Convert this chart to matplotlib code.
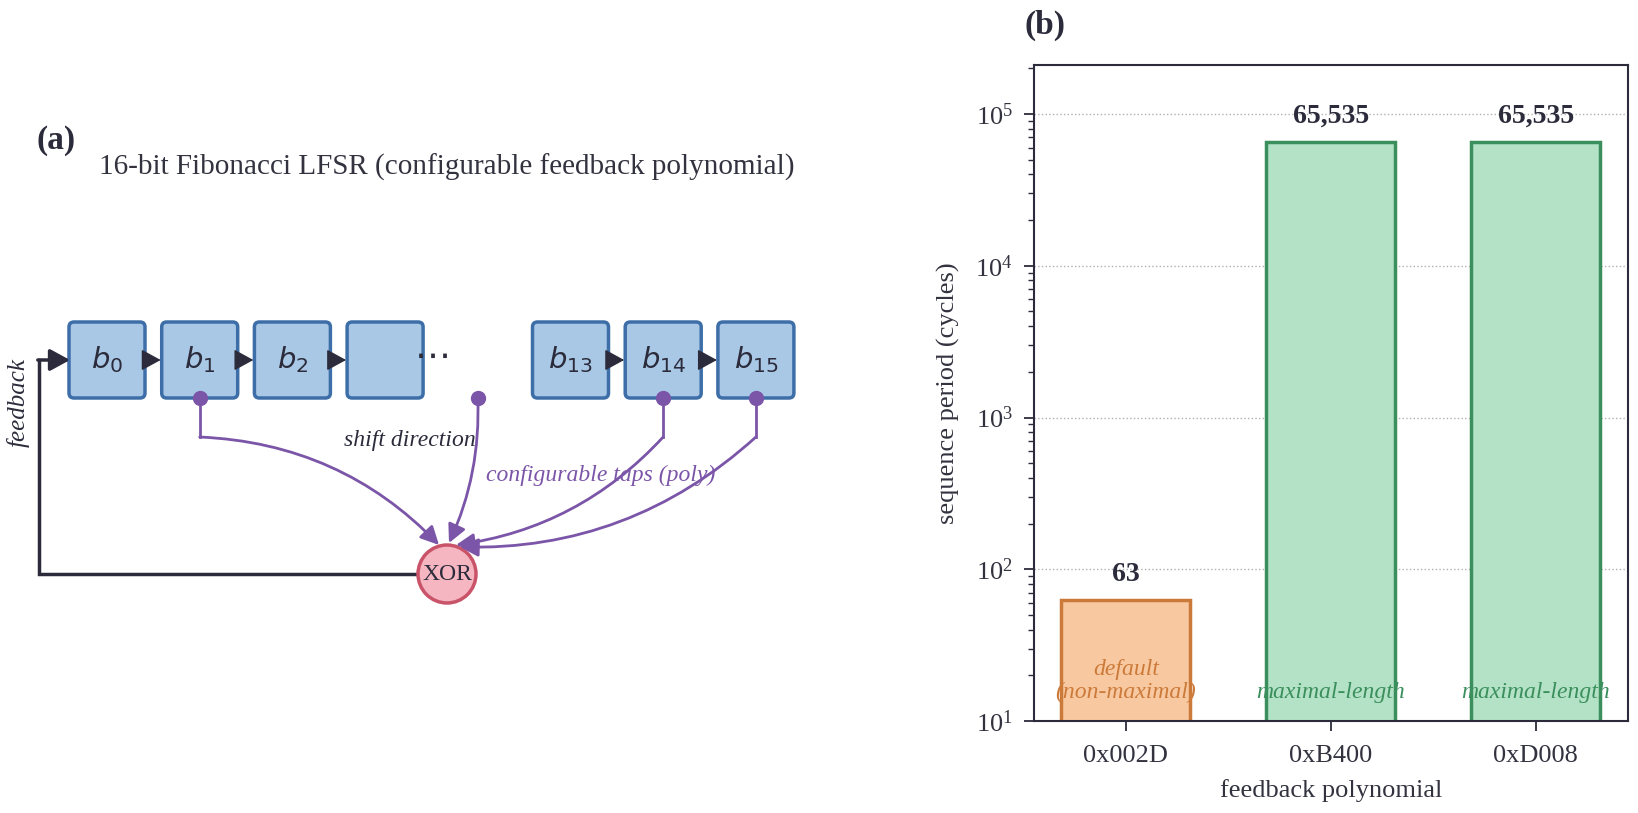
import numpy as np
import matplotlib
matplotlib.use("Agg")
import matplotlib.pyplot as plt
from matplotlib.patches import FancyBboxPatch, Circle

# ---------- FONT SETTINGS ----------
plt.rcParams.update({
    'font.family': ['Liberation Serif', 'DejaVu Serif'],
    'font.size': 19,
    'axes.labelsize': 19,
    'xtick.labelsize': 19,
    'ytick.labelsize': 19,
})

# ---------- DATA ----------
polys = ["0x002D", "0xB400", "0xD008"]
periods = [63, 65535, 65535]
bar_notes = ["default\n(non-maximal)", "maximal-length", "maximal-length"]
bit_names = ["$b_0$", "$b_1$", "$b_2$", "", "$b_{13}$", "$b_{14}$", "$b_{15}$"]
bit_slots = [0, 1, 2, 3, 5, 6, 7]
tap_slots = [1, 4, 6, 7]

DARK = "#2b2b3b"
PURPLE = "#7b55a8"
BOX_FACE, BOX_EDGE = "#a9c8e6", "#3d6ea8"
XOR_FACE, XOR_EDGE = "#f5b5c1", "#c9546a"
FACES = ["#f8c9a1", "#b4e2c6", "#b4e2c6"]
EDGES = ["#cc7a3a", "#3a8f5c", "#3a8f5c"]

W, H = 1638, 813
fig = plt.figure(figsize=(W / 100, H / 100), dpi=100)

# ================= panel (a): diagram in pixel coordinates =================
axa = fig.add_axes([0, 0, 0.6, 1])
axa.set_xlim(0, 0.6 * W)
axa.set_ylim(H, 0)
axa.axis("off")

X0, STEP, BW, BTOP = 69, 92.7, 76, 322
yc = BTOP + BW / 2
HEAD = "-|>,head_length=0.55,head_width=0.3"

for name, s in zip(bit_names, bit_slots):
    x = X0 + STEP * s
    axa.add_patch(FancyBboxPatch((x + 5, BTOP + 5), BW - 10, BW - 10,
                                 boxstyle="round,pad=5", fc=BOX_FACE,
                                 ec=BOX_EDGE, lw=2.5, zorder=2))
    if name:
        axa.text(x + BW / 2, yc, name, ha="center", va="center",
                 fontsize=21, color=DARK, zorder=3)

# shift arrows between neighbouring boxes (head only, sits in the gap)
for a, b in zip(bit_slots[:-1], bit_slots[1:]):
    if b - a != 1:
        continue
    xe = X0 + STEP * b - 1
    xs = xe - 17
    axa.annotate("", xy=(xe, yc), xytext=(xs, yc),
                 arrowprops=dict(arrowstyle=HEAD, color=DARK, lw=1,
                                 mutation_scale=22, shrinkA=0, shrinkB=0),
                 zorder=4)

axa.text(431, yc - 3, r"$\cdots$", ha="center", va="center", fontsize=26,
         color=DARK)

# XOR node
XC, YC, R = 447, 574, 29
axa.add_patch(Circle((XC, YC), R, fc=XOR_FACE, ec=XOR_EDGE, lw=2.5, zorder=3))
axa.text(XC, YC, "XOR", ha="center", va="center", fontsize=17, color=DARK,
         zorder=4)

# feedback path
axa.plot([XC - R, 39, 39], [YC, YC, yc], color=DARK, lw=2.5,
         solid_joinstyle="miter", zorder=1)
axa.annotate("", xy=(X0 + 1, yc), xytext=(37.8, yc),
             arrowprops=dict(arrowstyle=HEAD, color=DARK, lw=2.5,
                             mutation_scale=22, shrinkA=0, shrinkB=0))
axa.text(18, 402, "feedback", rotation=90, ha="center", va="center",
         fontsize=18, style="italic", color=DARK)

# taps
tips = [(439, 545), (449, 543), (456, 545), (460, 547)]
rads = [-0.2, -0.12, -0.18, -0.2]
for s, tip, rad in zip(tap_slots, tips, rads):
    x = X0 + STEP * s + BW / 2
    axa.plot([x], [BTOP + BW], "o", ms=10, color=PURPLE, zorder=5)
    if s == 4:
        start = (x, BTOP + BW)
    else:
        axa.plot([x, x], [BTOP + BW, 437], color=PURPLE, lw=2, zorder=1)
        start = (x, 437)
    axa.annotate("", xy=tip, xytext=start,
                 arrowprops=dict(arrowstyle="-|>,head_length=0.5,head_width=0.25",
                                 color=PURPLE, lw=2, mutation_scale=22,
                                 shrinkA=0, shrinkB=0,
                                 connectionstyle=f"arc3,rad={rad}"))

axa.text(410, 440, "shift direction", ha="center", va="center", fontsize=17,
         style="italic", color=DARK)
axa.text(601, 475, "configurable taps (poly)", ha="center", va="center",
         fontsize=17, style="italic", color=PURPLE)

axa.text(447, 167, "16-bit Fibonacci LFSR (configurable feedback polynomial)",
         ha="center", va="center", fontsize=21, color="#333340")
axa.text(36, 141, "(a)", ha="left", va="center", fontsize=24,
         fontweight="bold", color=DARK)

# ================= panel (b): sequence period bars =================
axb = fig.add_axes([0.631, 0.113, 0.363, 0.807])
xpos = np.arange(len(polys))
axb.bar(xpos, periods, width=0.63, color=FACES, edgecolor=EDGES,
        linewidth=2.5, zorder=2)
axb.set_yscale("log")
axb.set_ylim(10, 2.1e5)
axb.set_xlim(-0.45, 2.45)
axb.set_xticks(xpos)
axb.set_xticklabels(polys)
axb.grid(axis="y", which="major", ls=":", color="#b0b0b0", lw=1, zorder=0)

for x, v, note, ec in zip(xpos, periods, bar_notes, EDGES):
    axb.text(x, v * 1.22, f"{v:,}", ha="center", va="bottom", fontsize=20,
             fontweight="bold", color=DARK)
    axb.text(x, 13.2, note, ha="center", va="bottom", fontsize=17,
             style="italic", color=ec, linespacing=1.1)

for sp in axb.spines.values():
    sp.set_color(DARK)
    sp.set_linewidth(1.5)
axb.tick_params(axis="both", which="major", length=7, width=1.3, pad=8,
                color=DARK, labelcolor="#333340")
axb.tick_params(axis="x", which="major", pad=10)
axb.tick_params(axis="y", which="minor", length=4, width=1, color=DARK)
axb.set_ylabel("sequence period (cycles)", color="#333340", labelpad=11)
axb.set_xlabel("feedback polynomial", color="#333340", labelpad=9)

fig.text(1025 / W, 1 - 25 / H, "(b)", ha="left", va="center", fontsize=24,
         fontweight="bold", color=DARK)

fig.savefig("out.png", dpi=100)
